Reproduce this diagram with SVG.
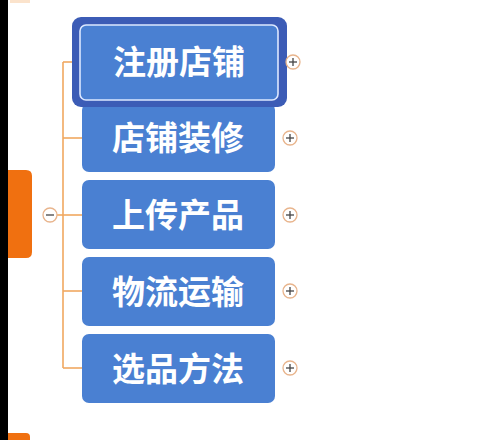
<svg xmlns="http://www.w3.org/2000/svg" width="496" height="440" viewBox="0 0 496 440">
<style>
.node{fill:#4a80d2}
.lbl{font-family:"Noto Sans CJK SC","Noto Sans",sans-serif;font-size:33px;font-weight:bold;fill:#ffffff;text-anchor:middle}
.conn{stroke:#f0a860;stroke-width:1.6;fill:none}
.btn{fill:#ffffff;stroke:#e8b48c;stroke-width:1.3}
.sign{stroke:#444444;stroke-width:1.3}
</style>
<rect x="0" y="0" width="496" height="440" fill="#ffffff"/>
<rect x="0" y="0" width="8" height="440" fill="#000000"/>
<rect x="10" y="0" width="20" height="3" fill="#fbe3cc"/>
<path d="M8,170 H26 Q32,170 32,176 V252 Q32,258 26,258 H8 Z" fill="#f07010"/>
<path d="M8,433 H26 Q30,433 30,437 V440 H8 Z" fill="#f07010"/>
<g id="connectors">
<line class="conn" x1="57" y1="215" x2="63" y2="215"/>
<line class="conn" x1="63" y1="62" x2="63" y2="368"/>
<line class="conn" x1="63" y1="62" x2="74" y2="62"/>
<line class="conn" x1="63" y1="138" x2="82" y2="138"/>
<line class="conn" x1="63" y1="215" x2="82" y2="215"/>
<line class="conn" x1="63" y1="291" x2="82" y2="291"/>
<line class="conn" x1="63" y1="368" x2="82" y2="368"/>
</g>
<g id="collapse">
<circle class="btn" cx="50" cy="215" r="7"/>
<line class="sign" x1="46" y1="215" x2="54" y2="215"/>
</g>
<g id="node2">
<rect class="node" x="82" y="103" width="193" height="69" rx="7"/>
<text class="lbl" x="178" y="150">店铺装修</text>
<circle class="btn" cx="290" cy="138" r="7"/>
<line class="sign" x1="286" y1="138" x2="294" y2="138"/><line class="sign" x1="290" y1="134" x2="290" y2="142"/>
</g>
<g id="node1">
<rect x="72" y="17" width="215" height="90" rx="9" fill="#3c5cb6"/>
<rect class="node" x="80" y="25" width="198" height="75" rx="6" stroke="#dce8ff" stroke-width="1.6"/>
<text class="lbl" x="179" y="74">注册店铺</text>
<circle class="btn" cx="293" cy="62" r="7"/>
<line class="sign" x1="289" y1="62" x2="297" y2="62"/><line class="sign" x1="293" y1="58" x2="293" y2="66"/>
</g>
<g id="node3">
<rect class="node" x="82" y="180" width="193" height="69" rx="7"/>
<text class="lbl" x="178" y="227">上传产品</text>
<circle class="btn" cx="290" cy="215" r="7"/>
<line class="sign" x1="286" y1="215" x2="294" y2="215"/><line class="sign" x1="290" y1="211" x2="290" y2="219"/>
</g>
<g id="node4">
<rect class="node" x="82" y="257" width="193" height="69" rx="7"/>
<text class="lbl" x="178" y="304">物流运输</text>
<circle class="btn" cx="290" cy="291" r="7"/>
<line class="sign" x1="286" y1="291" x2="294" y2="291"/><line class="sign" x1="290" y1="287" x2="290" y2="295"/>
</g>
<g id="node5">
<rect class="node" x="82" y="334" width="193" height="69" rx="7"/>
<text class="lbl" x="178" y="381">选品方法</text>
<circle class="btn" cx="290" cy="368" r="7"/>
<line class="sign" x1="286" y1="368" x2="294" y2="368"/><line class="sign" x1="290" y1="364" x2="290" y2="372"/>
</g>
</svg>
